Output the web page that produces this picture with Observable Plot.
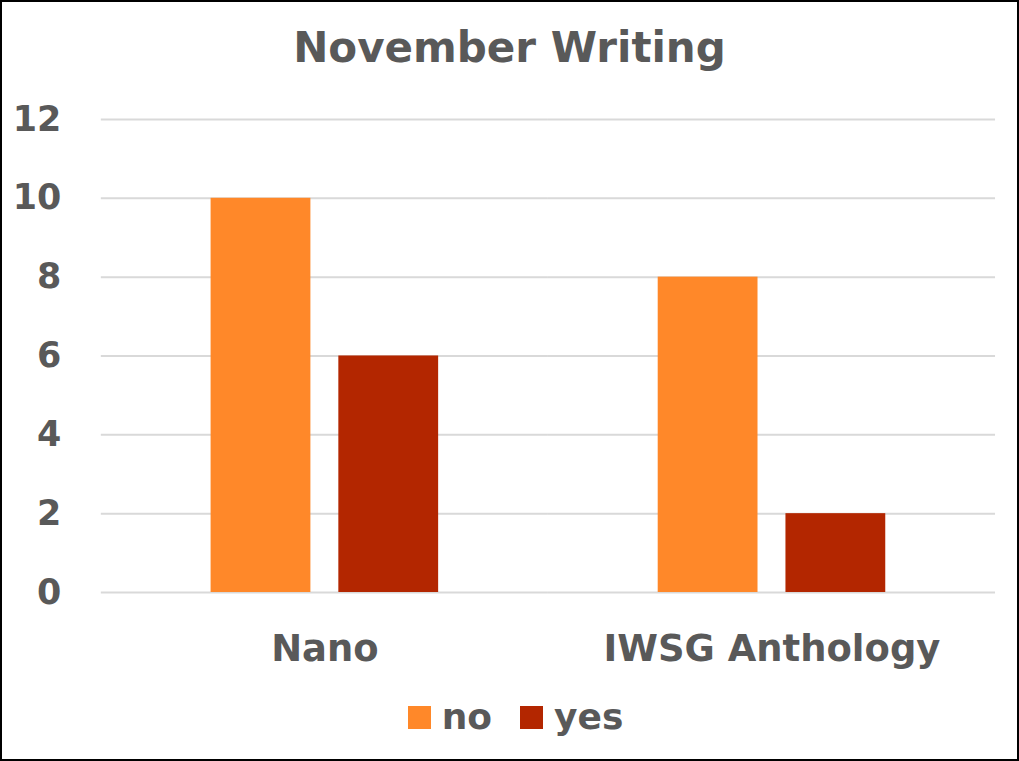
<!DOCTYPE html>
<html>
<head>
<meta charset="utf-8">
<script src="https://cdn.jsdelivr.net/npm/d3@7"></script>
<script src="https://cdn.jsdelivr.net/npm/@observablehq/plot@0.6"></script>
<style>
  html, body { margin: 0; padding: 0; background: #fff; }
  #frame { position: relative; width: 1019px; height: 761px; box-sizing: border-box; border: 2px solid #000; overflow: hidden; font-family: "DejaVu Sans", sans-serif; font-weight: bold; color: #595959; }
  #title { position: absolute; left: 0; right: 0; top: 25px; text-align: center; font-size: 42px; line-height: 1; }
  #chart { position: absolute; left: -2px; top: 88px; }
  #legend { position: absolute; left: 0; right: 0; top: 697px; display: flex; justify-content: center; align-items: center; font-size: 36px; line-height: 1; padding-left: 12px; }
  #legend .sw { width: 23px; height: 23px; display: inline-block; margin-right: 11px; }
  #legend .item { display: flex; align-items: center; margin: 0 14px; }
</style>
</head>
<body>
<div id="frame">
  <div id="title">November Writing</div>
  <div id="chart"></div>
  <div id="legend"></div>
</div>
<script>
const categories = ["Nano", "IWSG Anthology"];
const seriesNames = ["no", "yes"];
const noValues = [10, 8];
const yesValues = [6, 2];
const colors = ["#FF8829", "#B32600"];
const yTicks = [0, 2, 4, 6, 8, 10, 12];

const data = [];
categories.forEach((c, i) => {
  data.push({cat: c, series: "no", value: noValues[i]});
  data.push({cat: c, series: "yes", value: yesValues[i]});
});

const chart = Plot.plot({
  width: 1019,
  height: 600,
  marginLeft: 101,
  marginRight: 22,
  marginTop: 29,
  marginBottom: 97,
  style: { fontFamily: "DejaVu Sans, sans-serif", fontWeight: "bold", color: "#595959", background: "transparent", overflow: "visible" },
  fx: { domain: categories, padding: 0, label: null, axis: null },
  x: { domain: seriesNames, paddingInner: 0.21875, paddingOuter: 0.855, axis: null },
  y: { domain: [0, 12], ticks: yTicks, label: null, axis: null },
  color: { domain: seriesNames, range: colors },
  marks: [
    Plot.gridY(yTicks, { stroke: "#d9d9d9", strokeOpacity: 1, strokeWidth: 2 }),
    Plot.barY(data, { fx: "cat", x: "series", y: "value", fill: "series" }),
    Plot.axisY(yTicks, { tickSize: 0, tickPadding: 40, fontSize: 35, fill: "#595959", label: null, tickFormat: d => String(d) }),
    Plot.axisFx({ anchor: "bottom", tickSize: 0, tickPadding: 42, fontSize: 37, fill: "#595959", label: null })
  ]
});
document.getElementById("chart").appendChild(chart);

const legend = document.getElementById("legend");
seriesNames.forEach((s, i) => {
  const item = document.createElement("div");
  item.className = "item";
  const sw = document.createElement("span");
  sw.className = "sw";
  sw.style.background = colors[i];
  item.appendChild(sw);
  item.appendChild(document.createTextNode(s));
  legend.appendChild(item);
});
</script>
</body>
</html>
